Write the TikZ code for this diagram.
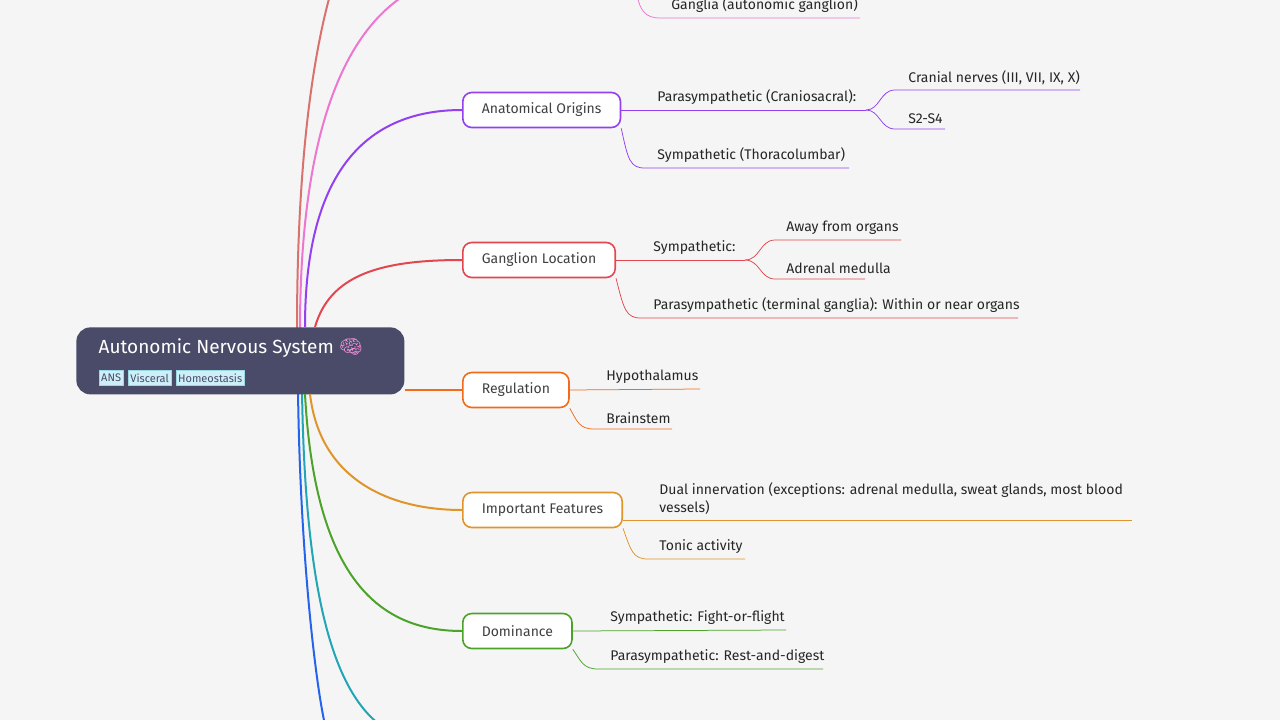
\documentclass[tikz,border=0pt]{standalone}
\usepackage{fontspec}
\setmainfont{Fira Sans}
\newfontfamily\emojifont{Noto Emoji}
\definecolor{bgc}{HTML}{F5F5F5}
\definecolor{rootc}{HTML}{4A4B68}
\definecolor{tagc}{HTML}{CDEFF7}
\definecolor{purp}{HTML}{9340F0}
\definecolor{redc}{HTML}{E2474F}
\definecolor{oran}{HTML}{F26B1D}
\definecolor{gold}{HTML}{E0952A}
\definecolor{gren}{HTML}{4BA32A}
\definecolor{teal}{HTML}{22A5B5}
\definecolor{blue}{HTML}{2563EB}
\definecolor{brwn}{HTML}{D9726E}
\definecolor{pink}{HTML}{EC76D0}
\tikzset{every picture/.style={line width=0.75pt}}
\tikzset{
  topic/.style={draw=#1, line width=1.6pt, fill=white, rounded corners=9pt, minimum height=35pt, anchor=west, inner xsep=19pt, font=\fontsize{14}{16}\selectfont, text=black!75},
  leaf/.style={anchor=south west, inner xsep=0pt, inner ysep=5pt, font=\fontsize{14}{18}\selectfont, text=black!85, align=left},
  tag/.style={fill=tagc, draw=tagc!70!teal, line width=0.4pt, inner xsep=2pt, inner ysep=3pt, minimum height=15pt, font=\fontsize{11}{12}\selectfont, text=rootc, anchor=west}
}
\begin{document}
\begin{tikzpicture}[x=1pt,y=-1pt]
        \fill [bgc] (0,0) rectangle (1280,720);
        \useasboundingbox (0,0) rectangle (1280,720);
        % main branches
        \draw [brwn, line width=2pt] (297,330) .. controls (297,150) and (315,50) .. (330,-5);
        \draw [pink, line width=2pt] (300,330) .. controls (300,120) and (350,30) .. (405,-5);
        \draw [blue, line width=2pt] (298,390) .. controls (300,550) and (315,680) .. (325,725);
        \draw [teal, line width=2pt] (302,390) .. controls (305,600) and (335,690) .. (380,725);
        % Root
        \node [fill=rootc, rounded corners=14pt, minimum width=328pt, minimum height=67pt, anchor=north west] (root) at (76,327) {};
        \node [anchor=west, text=white, font=\fontsize{19}{21}\selectfont] (title) at (95,348) {Autonomic Nervous System {\emojifont\color{pink!80}🧠}};
        \node [tag] (ans) at (99,378) {ANS};
        \node [tag] (visc) at ([xshift=5pt]ans.east) {Visceral};
        \node [tag] (homeo) at ([xshift=5pt]visc.east) {Homeostasis};
        % Topics
        \node [topic=purp] (anat) at (462,110) {Anatomical Origins};
        \node [topic=redc] (gang) at (462,260) {Ganglion Location};
        \node [topic=oran] (reg) at (462,390) {Regulation};
        \node [topic=gold] (feat) at (462,510) {Important Features};
        \node [topic=gren] (dom) at (462,631) {Dominance};
        \draw [purp, line width=2pt] (305,327) .. controls (305,180) and (360,110) .. (anat.west);
        \draw [redc, line width=2pt] (315,327) .. controls (330,275) and (380,260) .. (gang.west);
        \draw [oran, line width=2pt] (root.east |- reg.west) -- (reg.west);
        \draw [gold, line width=2pt] (310,394) .. controls (320,480) and (390,510) .. (feat.west);
        \draw [gren, line width=2pt] (305,394) .. controls (315,580) and (380,631) .. (dom.west);
        % Pink leaf (top)
        \node [leaf] (gangl) at (671,18) {Ganglia (autonomic ganglion)};
        \draw [pink] (637,-5) .. controls (640,10) and (645,18) .. (660,18) -- (860,18);
        % Anatomical Origins
        \node [leaf] (para) at (657,110) {Parasympathetic (Craniosacral):};
        \draw [purp] (anat.east) -- (866,110);
        \node [leaf] (cran) at (908,90) {Cranial nerves (III, VII, IX, X)};
        \draw [purp] (866,110) .. controls (880,110) and (880,90) .. (895,90) -- (1080,90);
        \node [leaf] (s2) at (908,129) {S2-S4};
        \draw [purp] (866,110) .. controls (880,110) and (880,129) .. (895,129) -- (945,129);
        \node [leaf] (symp) at (657,168) {Sympathetic (Thoracolumbar)};
        \draw [purp] (anat.south east) .. controls (628,160) and (630,168) .. (645,168) -- (849,168);
        % Ganglion Location
        \node [leaf] (gsym) at (653,260) {Sympathetic:};
        \draw [redc] (gang.east) -- (745,260);
        \node [leaf] (away) at (786,240) {Away from organs};
        \draw [redc] (745,260) .. controls (760,260) and (760,240) .. (775,240) -- (901,240);
        \node [leaf] (adr) at (786,279) {Adrenal medulla};
        \draw [redc] (745,260) .. controls (760,260) and (760,279) .. (775,279) -- (865,279);
        \node [leaf] (term) at (653,318) {Parasympathetic (terminal ganglia): Within or near organs};
        \draw [redc] (gang.south east) .. controls (624,310) and (626,318) .. (641,318) -- (1018,318);
        % Regulation
        \node [leaf] (hyp) at (606,389) {Hypothalamus};
        \draw [oran] (reg.east) -- (700,389);
        \node [leaf] (brain) at (606,429) {Brainstem};
        \draw [oran] (reg.south east) .. controls (577,421) and (579,429) .. (594,429) -- (672,429);
        % Important Features
        \node [leaf] (dual) at (659,520) {Dual innervation (exceptions: adrenal medulla, sweat glands, most blood\\vessels)};
        \draw [gold] (feat.east |- 0,520) -- (1132,520);
        \node [leaf] (tonic) at (659,559) {Tonic activity};
        \draw [gold] (feat.south east) .. controls (631,551) and (633,559) .. (648,559) -- (745,559);
        % Dominance
        \node [leaf] (fight) at (610,630) {Sympathetic: Fight-or-flight};
        \draw [gren] (dom.east) -- (786,630);
        \node [leaf] (rest) at (610,669) {Parasympathetic: Rest-and-digest};
        \draw [gren] (dom.south east) .. controls (581,661) and (583,669) .. (598,669) -- (823,669);
\end{tikzpicture}
\end{document}
